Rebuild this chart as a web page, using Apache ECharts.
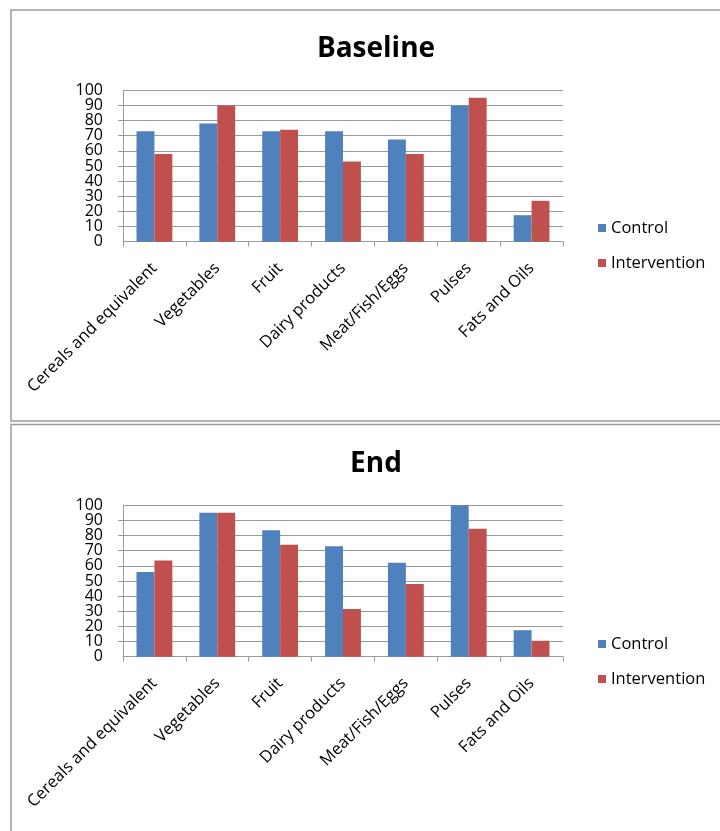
<!DOCTYPE html>
<html>
<head>
<meta charset="utf-8">
<script src="https://cdn.jsdelivr.net/npm/echarts@6/dist/echarts.min.js"></script>
<style>
  html, body { margin: 0; padding: 0; background: #fff; }
  #chart { width: 720px; height: 831px; }
</style>
</head>
<body>
<div id="chart"></div>
<script>
// Food groups consumed (%), Control vs Intervention, at baseline and at end of study
const categories = ['Cereals and equivalent', 'Vegetables', 'Fruit', 'Dairy products', 'Meat/Fish/Eggs', 'Pulses', 'Fats and Oils'];
const baselineControl      = [73, 78, 73, 73, 67.5, 90, 17.5];
const baselineIntervention = [58, 90, 74, 53, 58, 95, 27];
const endControl           = [56, 95, 83.5, 73, 62, 100, 17.5];
const endIntervention      = [63.5, 95, 74, 31.5, 48, 84.5, 10.5];
const panelTitles = ['Baseline', 'End'];
const seriesNames = ['Control', 'Intervention'];
const yTicks = { min: 0, max: 100, interval: 10 };

const FONT = '"Open Sans", "Noto Sans", sans-serif';
const BLUE = '#4F81BD';
const RED = '#C0504D';
const GRID_GRAY = '#9a9a9a';
const FS = 16.5;

const gridTops = [90.3, 505.3];

function xAxisFor(i) {
  return {
    gridIndex: i,
    type: 'category',
    data: categories,
    axisLine: { show: true, lineStyle: { color: GRID_GRAY, width: 1 } },
    axisTick: { show: true, length: 5, lineStyle: { color: GRID_GRAY } },
    axisLabel: {
      rotate: 45, interval: 0, margin: 24,
      color: '#000', fontFamily: FONT, fontSize: FS
    },
    splitLine: { show: false }
  };
}

const yLabelStyle = { margin: 20, color: '#000', fontFamily: FONT, fontSize: 16 };

// Main value axis: line, ticks, gridlines and the inner labels (10..90)
function yAxisFor(i) {
  return {
    gridIndex: i,
    type: 'value',
    min: yTicks.min, max: yTicks.max, interval: yTicks.interval,
    axisLine: { show: true, lineStyle: { color: GRID_GRAY, width: 1 } },
    axisTick: { show: true, length: 5, lineStyle: { color: GRID_GRAY } },
    axisLabel: Object.assign({ showMinLabel: false, showMaxLabel: false }, yLabelStyle),
    splitLine: { show: true, lineStyle: { color: GRID_GRAY, width: 1 } }
  };
}

// Companion axis on the same grid carrying only the end labels (0 and 100)
function yEndsAxisFor(i) {
  return {
    gridIndex: i,
    type: 'value',
    position: 'left',
    min: yTicks.min, max: yTicks.max, interval: yTicks.max - yTicks.min,
    axisLine: { show: false },
    axisTick: { show: false },
    splitLine: { show: false },
    axisLabel: Object.assign({ showMinLabel: true, showMaxLabel: true }, yLabelStyle)
  };
}

function barSeries(name, data, color, idx) {
  return {
    name: name,
    type: 'bar',
    xAxisIndex: idx,
    yAxisIndex: idx * 2,
    data: data,
    barGap: '0%',
    barCategoryGap: '43%',
    itemStyle: { color: color },
    emphasis: { disabled: true }
  };
}

const option = {
  animation: false,
  backgroundColor: '#fff',
  graphic: [
    { type: 'rect', shape: { x: 11, y: 10, width: 800, height: 411 },
      style: { fill: 'none', stroke: '#9c9c9c', lineWidth: 1.5 }, silent: true },
    { type: 'rect', shape: { x: 11, y: 424.5, width: 800, height: 500 },
      style: { fill: 'none', stroke: '#9c9c9c', lineWidth: 1.5 }, silent: true }
  ],
  title: panelTitles.map((t, i) => ({
    text: t,
    left: 371, top: i === 0 ? 30 : 445,
    textAlign: 'center',
    textStyle: { fontFamily: FONT, fontSize: 28, fontWeight: 'bold', color: '#000' }
  })),
  legend: [0, 1].map(i => ({
    data: seriesNames,
    orient: 'vertical',
    left: 593,
    top: i === 0 ? 213 : 629,
    icon: 'rect',
    itemWidth: 8, itemHeight: 8,
    itemGap: 15,
    selectedMode: false,
    textStyle: { fontFamily: FONT, fontSize: FS, color: '#000', lineHeight: 20 }
  })),
  grid: gridTops.map(t => ({ left: 123, top: t, width: 440, height: 151.4 })),
  xAxis: [xAxisFor(0), xAxisFor(1)],
  yAxis: [yAxisFor(0), yEndsAxisFor(0), yAxisFor(1), yEndsAxisFor(1)],
  series: [
    barSeries(seriesNames[0], baselineControl, BLUE, 0),
    barSeries(seriesNames[1], baselineIntervention, RED, 0),
    barSeries(seriesNames[0], endControl, BLUE, 1),
    barSeries(seriesNames[1], endIntervention, RED, 1)
  ]
};

const chart = echarts.init(document.getElementById('chart'), null, { renderer: 'canvas' });
chart.setOption(option);
</script>
</body>
</html>
